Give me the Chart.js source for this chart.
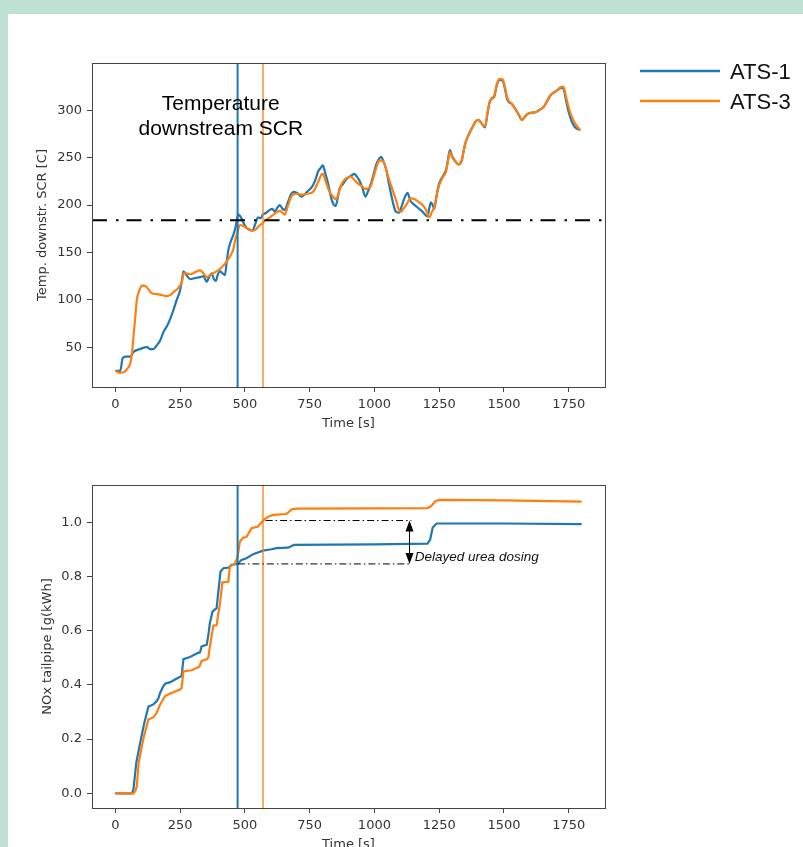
<!DOCTYPE html>
<html>
<head>
<meta charset="utf-8">
<script src="https://cdn.jsdelivr.net/npm/chart.js@4.4.1/dist/chart.umd.min.js"></script>
<style>
  html, body { margin: 0; padding: 0; background: #bfe1d3; }
  #page { position: relative; width: 803px; height: 847px; overflow: hidden; }
  #sheet { position: absolute; left: 8px; top: 14px; right: 0; bottom: 0; background: #fff; }
  canvas { position: absolute; left: 0; }
  #tempChart { top: 0; }
  #noxChart { top: 435px; }
</style>
</head>
<body>
<div id="page">
  <div id="sheet"></div>
  <canvas id="tempChart" width="803" height="435" style="width:803px;height:435px"></canvas>
  <canvas id="noxChart" width="803" height="421" style="width:803px;height:421px"></canvas>
</div>
<script>
// ====== DATA ======
const seriesLabels = ["ATS-1", "ATS-3"];
const timeTicks = [0, 250, 500, 750, 1000, 1250, 1500, 1750];
const tempTicks = [50, 100, 150, 200, 250, 300];
const noxTicks = [0, 0.2, 0.4, 0.6, 0.8, 1.0];

// temperature downstream SCR, ATS-1
const ats1TempTime = [0, 19, 28, 40, 58, 70, 95, 122, 135, 147, 160, 173, 186, 199, 212, 224, 237, 250, 258, 263, 275, 288, 307, 327, 340, 353, 362, 372, 380, 388, 396, 404, 414, 423, 430, 436, 446, 455, 465, 474, 480, 487, 497, 506, 518, 529, 540, 551, 560, 570, 583, 596, 606, 615, 625, 635, 645, 654, 666, 679, 692, 705, 718, 740, 763, 775, 782, 792, 801, 810, 821, 831, 840, 850, 858, 865, 878, 891, 910, 923, 932, 942, 954, 965, 976, 987, 1000, 1006, 1016, 1026, 1035, 1045, 1055, 1064, 1074, 1083, 1096, 1103, 1109, 1120, 1128, 1138, 1147, 1160, 1173, 1186, 1199, 1205, 1212, 1218, 1225, 1231, 1240, 1250, 1263, 1276, 1284, 1291, 1301, 1313, 1324, 1337, 1345, 1353, 1365, 1378, 1390, 1401, 1414, 1427, 1436, 1445, 1455, 1462, 1472, 1481, 1494, 1503, 1512, 1522, 1530, 1538, 1554, 1570, 1583, 1596, 1622, 1640, 1654, 1667, 1680, 1700, 1724, 1731, 1740, 1750, 1762, 1775, 1795];
const ats1Temp = [25, 25, 38, 40, 40, 45, 48, 50, 48, 48, 52, 57, 66, 72, 80, 89, 100, 110, 122, 130, 126, 122, 123, 124, 125, 119, 124, 128, 122, 120, 127, 130, 128, 126, 140, 152, 162, 168, 178, 190, 189, 186, 180, 176, 174, 173, 180, 187, 186, 190, 192, 195, 196, 193, 197, 200, 196, 195, 203, 212, 214, 212, 209, 214, 221, 229, 235, 239, 242, 234, 223, 210, 202, 199, 207, 217, 222, 227, 231, 233, 230, 226, 218, 209, 215, 223, 236, 242, 248, 251, 246, 238, 224, 212, 200, 193, 192, 197, 202, 210, 213, 205, 202, 199, 196, 193, 189, 188, 197, 203, 200, 196, 210, 223, 230, 237, 248, 258, 251, 246, 243, 247, 258, 267, 275, 282, 288, 290, 286, 282, 296, 309, 313, 314, 326, 332, 332, 324, 312, 308, 307, 304, 297, 290, 294, 297, 298, 301, 304, 310, 316, 320, 324, 322, 310, 298, 288, 282, 279];

// temperature downstream SCR, ATS-3
const ats3TempTime = [0, 19, 35, 45, 58, 65, 70, 77, 83, 93, 103, 113, 122, 131, 141, 160, 180, 199, 212, 224, 237, 250, 258, 263, 275, 288, 307, 327, 340, 353, 365, 378, 390, 405, 423, 436, 449, 455, 461, 470, 481, 494, 506, 520, 532, 545, 551, 564, 580, 596, 615, 635, 645, 654, 666, 679, 699, 720, 740, 763, 782, 795, 801, 812, 827, 840, 853, 863, 875, 885, 897, 910, 921, 932, 945, 955, 968, 978, 987, 1000, 1010, 1019, 1028, 1038, 1050, 1060, 1070, 1086, 1096, 1103, 1112, 1122, 1141, 1157, 1173, 1186, 1199, 1212, 1222, 1231, 1240, 1250, 1263, 1276, 1284, 1291, 1301, 1313, 1324, 1337, 1345, 1353, 1365, 1378, 1390, 1401, 1414, 1427, 1436, 1445, 1455, 1462, 1472, 1481, 1494, 1503, 1512, 1522, 1530, 1538, 1554, 1570, 1583, 1596, 1622, 1640, 1654, 1667, 1680, 1700, 1724, 1731, 1740, 1750, 1762, 1775, 1795];
const ats3Temp = [25, 23, 24, 27, 33, 45, 61, 82, 100, 110, 115, 115, 113, 110, 107, 106, 105, 104, 105, 108, 111, 115, 120, 128, 128, 127, 129, 131, 128, 124, 126, 128, 130, 133, 138, 143, 149, 153, 161, 170, 179, 178, 176, 174, 173, 175, 177, 180, 184, 187, 191, 194, 192, 190, 199, 209, 212, 211, 212, 214, 224, 232, 233, 225, 214, 209, 206, 214, 223, 227, 229, 230, 227, 224, 221, 219, 217, 218, 221, 233, 242, 247, 247, 244, 233, 224, 216, 203, 194, 193, 196, 200, 207, 206, 203, 200, 195, 187, 193, 198, 210, 221, 229, 235, 246, 256, 250, 246, 243, 247, 258, 267, 275, 282, 288, 290, 286, 283, 297, 309, 313, 315, 327, 333, 333, 326, 314, 309, 307, 304, 297, 290, 294, 297, 298, 301, 304, 310, 316, 320, 325, 324, 314, 303, 293, 286, 279];

// cumulative NOx tailpipe, ATS-1
const ats1NoxTime = [0, 64, 70, 75, 81, 96, 112, 128, 147, 160, 167, 173, 185, 192, 212, 250, 256, 260, 263, 288, 320, 327, 333, 353, 360, 365, 375, 391, 397, 406, 417, 436, 449, 472, 487, 506, 532, 570, 603, 622, 667, 680, 690, 1000, 1205, 1215, 1225, 1240, 1500, 1800];
const ats1Nox = [0, 0, 0.015, 0.06, 0.113, 0.187, 0.26, 0.32, 0.328, 0.34, 0.352, 0.371, 0.395, 0.404, 0.41, 0.43, 0.433, 0.47, 0.495, 0.503, 0.518, 0.52, 0.542, 0.548, 0.59, 0.628, 0.67, 0.683, 0.738, 0.818, 0.83, 0.832, 0.843, 0.846, 0.861, 0.867, 0.882, 0.895, 0.9, 0.904, 0.906, 0.912, 0.916, 0.918, 0.921, 0.935, 0.98, 0.995, 0.995, 0.993];

// cumulative NOx tailpipe, ATS-3
const ats3NoxTime = [0, 70, 78, 83, 90, 109, 128, 147, 160, 173, 192, 212, 250, 256, 263, 295, 324, 333, 353, 359, 365, 378, 391, 397, 404, 413, 436, 442, 461, 472, 481, 494, 506, 526, 551, 570, 590, 609, 660, 672, 683, 700, 1000, 1205, 1220, 1235, 1250, 1500, 1800];
const ats3Nox = [0, 0, 0.01, 0.027, 0.113, 0.205, 0.273, 0.28, 0.298, 0.328, 0.359, 0.368, 0.383, 0.389, 0.45, 0.454, 0.467, 0.488, 0.494, 0.5, 0.542, 0.618, 0.62, 0.66, 0.7, 0.778, 0.78, 0.836, 0.846, 0.873, 0.929, 0.943, 0.945, 0.978, 0.984, 1.006, 1.02, 1.027, 1.03, 1.04, 1.048, 1.05, 1.051, 1.052, 1.06, 1.077, 1.082, 1.08, 1.076];

// dosing start times (vertical markers) and threshold temperature
const dosingStart = [472, 570];
const thresholdTemp = 184;

// "delayed urea dosing" note: levels, where each level line starts, where they end
const noteLevels = [0.846, 1.006];
const noteLevelStart = [473, 580];
const noteLevelEnd = 1143;
const noteArrowTime = 1134;
const noteText = "Delayed urea dosing";
const noteTextAt = { x: 1156, y: 0.8575 };

const tempTitleLines = ["Temperature", "downstream SCR"];
const tempTitleAt = { x: 407, y: 300 };

// axis limits
const timeRange = [-90, 1890];
const tempRange = [8, 350];
const noxRange = [-0.054, 1.137];

// ====== STYLE ======
const colors = ["#1f77b4", "#ff7f0e"];
const tickFont = { family: "'DejaVu Sans', sans-serif", size: 13 };
const textColor = "#333";
const spineColor = "#444";

function pairs(xs, ys) {
  return xs.map((x, i) => ({ x: x, y: ys[i] }));
}

function vline(t, range) {
  return [{ x: t, y: range[0] }, { x: t, y: range[1] }];
}

function hline(y, from, to) {
  return [{ x: from, y: y }, { x: to, y: y }];
}

function lineSet(label, data, color, width, extra) {
  return Object.assign({
    label: label,
    data: data,
    showLine: true,
    borderColor: color,
    backgroundColor: color,
    borderWidth: width,
    pointRadius: 0,
    fill: false,
  }, extra || {});
}

function axis(range, ticks, width, height, title, fmt) {
  const cfg = {
    type: "linear",
    min: range[0],
    max: range[1],
    afterBuildTicks: (s) => { s.ticks = ticks.map((v) => ({ value: v })); },
    grid: { display: true, drawOnChartArea: false, drawTicks: true, tickLength: 5, tickColor: spineColor, tickWidth: 1 },
    border: { display: true, color: spineColor, width: 1 },
    ticks: { color: textColor, font: tickFont, padding: 5, maxRotation: 0, autoSkip: false, callback: fmt || ((v) => v) },
    title: { display: true, text: title, color: textColor, font: tickFont, padding: { top: 4, bottom: 4 } },
  };
  if (width) cfg.afterFit = (s) => { s.width = width; };
  if (height) cfg.afterFit = (s) => { s.height = height; };
  return cfg;
}

// box round the plot area
const frame = {
  id: "frame",
  afterDatasetsDraw(chart) {
    const { ctx, chartArea: a } = chart;
    ctx.save();
    ctx.strokeStyle = spineColor;
    ctx.lineWidth = 1;
    ctx.strokeRect(Math.round(a.left) + 0.5, Math.round(a.top) + 0.5, Math.round(a.right - a.left), Math.round(a.bottom - a.top));
    ctx.restore();
  },
};

// ====== CHART 1: TEMPERATURE ======
const tempNotes = {
  id: "tempNotes",
  afterDraw(chart) {
    const { ctx, scales: { x, y } } = chart;
    ctx.save();
    ctx.fillStyle = "#000";
    ctx.font = "21px 'Liberation Sans', Arial, sans-serif";
    ctx.textAlign = "center";
    ctx.textBaseline = "alphabetic";
    const px = x.getPixelForValue(tempTitleAt.x);
    const py = y.getPixelForValue(tempTitleAt.y);
    tempTitleLines.forEach((line, i) => ctx.fillText(line, px, py + i * 25));

    // legend, right of the axes
    ctx.font = "22px 'Liberation Sans', Arial, sans-serif";
    ctx.textAlign = "left";
    seriesLabels.forEach((label, i) => {
      const ds = chart.data.datasets.find((d) => d.label === label);
      const ly = 71 + i * 30;
      ctx.strokeStyle = ds.borderColor;
      ctx.lineWidth = 2.6;
      ctx.beginPath();
      ctx.moveTo(640, ly);
      ctx.lineTo(720, ly);
      ctx.stroke();
      ctx.fillStyle = "#111";
      ctx.fillText(label, 730, ly + 8);
    });
    ctx.restore();
  },
};

new Chart(document.getElementById("tempChart"), {
  type: "scatter",
  data: {
    datasets: [
      lineSet(seriesLabels[0], pairs(ats1TempTime, ats1Temp), colors[0], 2.2, { order: 3, cubicInterpolationMode: "monotone" }),
      lineSet(seriesLabels[1], pairs(ats3TempTime, ats3Temp), colors[1], 2.2, { order: 2, cubicInterpolationMode: "monotone" }),
      lineSet("threshold", hline(thresholdTemp, timeRange[0], timeRange[1]), "#000", 2.2, { order: 0, borderDash: [15, 9, 2.5, 8] }),
      lineSet("dosing ATS-1", vline(dosingStart[0], tempRange), colors[0], 2, { order: 1 }),
      lineSet("dosing ATS-3", vline(dosingStart[1], tempRange), colors[1], 1.3, { order: 1 }),
    ],
  },
  options: {
    responsive: false,
    animation: false,
    events: [],
    layout: { padding: { left: 31, top: 63, right: 198, bottom: 0 } },
    scales: {
      x: axis(timeRange, timeTicks, 0, 48, "Time [s]"),
      y: axis(tempRange, tempTicks, 61, 0, "Temp. downstr. SCR [C]"),
    },
    plugins: { legend: { display: false }, tooltip: { enabled: false } },
  },
  plugins: [frame, tempNotes],
});

// ====== CHART 2: NOx ======
const noxNotes = {
  id: "noxNotes",
  afterDatasetsDraw(chart) {
    const { ctx, scales: { x, y } } = chart;
    const ax = Math.round(x.getPixelForValue(noteArrowTime)) + 0.5;
    const yLow = y.getPixelForValue(noteLevels[0]);
    const yHigh = y.getPixelForValue(noteLevels[1]);
    ctx.save();
    ctx.strokeStyle = "#000";
    ctx.fillStyle = "#000";
    ctx.lineWidth = 1;
    ctx.beginPath();
    ctx.moveTo(ax, yHigh + 8);
    ctx.lineTo(ax, yLow - 8);
    ctx.stroke();
    ctx.beginPath();
    ctx.moveTo(ax, yHigh);
    ctx.lineTo(ax - 4, yHigh + 11);
    ctx.lineTo(ax + 4, yHigh + 11);
    ctx.closePath();
    ctx.fill();
    ctx.beginPath();
    ctx.moveTo(ax, yLow);
    ctx.lineTo(ax - 4, yLow - 11);
    ctx.lineTo(ax + 4, yLow - 11);
    ctx.closePath();
    ctx.fill();
    ctx.font = "italic 13.5px 'Liberation Sans', Arial, sans-serif";
    ctx.textBaseline = "alphabetic";
    ctx.fillStyle = "#111";
    ctx.fillText(noteText, x.getPixelForValue(noteTextAt.x), y.getPixelForValue(noteTextAt.y));
    ctx.restore();
  },
};

new Chart(document.getElementById("noxChart"), {
  type: "scatter",
  data: {
    datasets: [
      lineSet(seriesLabels[0], pairs(ats1NoxTime, ats1Nox), colors[0], 2.2, { order: 3 }),
      lineSet(seriesLabels[1], pairs(ats3NoxTime, ats3Nox), colors[1], 2.2, { order: 2 }),
      lineSet("level ATS-1", hline(noteLevels[0], noteLevelStart[0], noteLevelEnd), "#000", 1, { order: 0, borderDash: [7, 3, 1.5, 3] }),
      lineSet("level ATS-3", hline(noteLevels[1], noteLevelStart[1], noteLevelEnd), "#000", 1, { order: 0, borderDash: [7, 3, 1.5, 3] }),
      lineSet("dosing ATS-1", vline(dosingStart[0], noxRange), colors[0], 2, { order: 1 }),
      lineSet("dosing ATS-3", vline(dosingStart[1], noxRange), colors[1], 1.3, { order: 1 }),
    ],
  },
  options: {
    responsive: false,
    animation: false,
    events: [],
    layout: { padding: { left: 36, top: 50, right: 198, bottom: 0 } },
    scales: {
      x: axis(timeRange, timeTicks, 0, 48, "Time [s]"),
      y: axis(noxRange, noxTicks, 56, 0, "NOx tailpipe [g(kWh]", (v) => v.toFixed(1)),
    },
    plugins: { legend: { display: false }, tooltip: { enabled: false } },
  },
  plugins: [frame, noxNotes],
});
</script>
</body>
</html>
